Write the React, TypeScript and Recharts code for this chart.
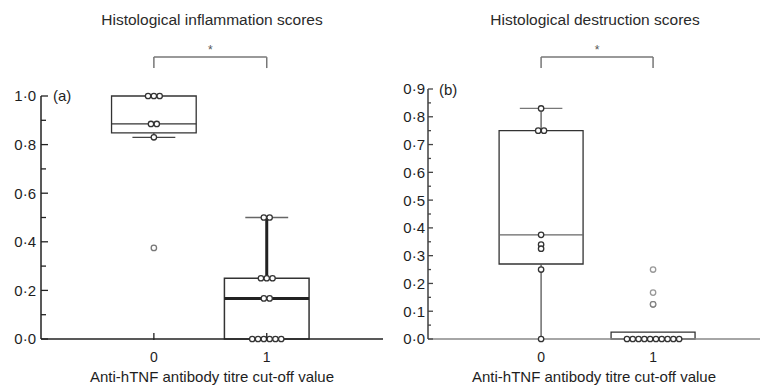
import React from 'react';
import { ComposedChart, Scatter, XAxis, YAxis, ReferenceArea, ReferenceLine, Label } from 'recharts';

const FONT = '"Liberation Sans", Arial, Helvetica, sans-serif';
const TEXT = '#1e1e1e';

// shared
const CATEGORIES = [0, 1];
const X_TICK_LABELS = ['0', '1'];
const X_AXIS_TITLE = 'Anti-hTNF antibody titre cut-off value';

// panel (a)
const A_TITLE = 'Histological inflammation scores';
const A_TAG = '(a)';
const A_VALUES_0 = [1, 1, 1, 0.885, 0.885, 0.83];
const A_OUTLIERS_0 = [0.375];
const A_VALUES_1 = [0.5, 0.5, 0.25, 0.25, 0.25, 0.167, 0.167, 0, 0, 0, 0, 0, 0];
const A_Q1 = [0.848, 0];
const A_MEDIAN = [0.885, 0.167];
const A_Q3 = [1, 0.25];
const A_WHISKER_LOW = [0.83, 0];
const A_WHISKER_HIGH = [1, 0.5];
const A_Y_TICKS = [0, 0.1, 0.2, 0.3, 0.4, 0.5, 0.6, 0.7, 0.8, 0.9, 1.0];
const A_Y_LABELS = ['0·0', '', '0·2', '', '0·4', '', '0·6', '', '0·8', '', '1·0'];
const A_BRACKET = [1.16, 1.115];

// panel (b)
const B_TITLE = 'Histological destruction scores';
const B_TAG = '(b)';
const B_VALUES_0 = [0.83, 0.75, 0.75, 0.375, 0.34, 0.325, 0.25, 0];
const B_VALUES_1 = [0, 0, 0, 0, 0, 0, 0, 0, 0, 0];
const B_OUTLIERS_1 = [0.25, 0.167, 0.125, 0.125];
const B_Q1 = [0.27, 0];
const B_MEDIAN = [0.375, 0];
const B_Q3 = [0.75, 0.025];
const B_WHISKER_LOW = [0, 0];
const B_WHISKER_HIGH = [0.83, 0.025];
const B_Y_TICKS = [0, 0.05, 0.1, 0.15, 0.2, 0.25, 0.3, 0.35, 0.4, 0.45, 0.5, 0.55, 0.6, 0.65, 0.7, 0.75, 0.8, 0.85, 0.9];
const B_Y_LABELS = ['0·0', '', '0·1', '', '0·2', '', '0·3', '', '0·4', '', '0·5', '', '0·6', '', '0·7', '', '0·8', '', '0·9'];
const B_BRACKET = [1.015, 0.976];

type BoxStyle = { box: string; boxW: number; med: string; medW: number; whisk: string; whiskW: number; cap: string; capW: number };

const A_STYLES: BoxStyle[] = [
  { box: '#333', boxW: 1.3, med: '#333', medW: 1.3, whisk: '#444', whiskW: 1.3, cap: '#444', capW: 1.3 },
  { box: '#333', boxW: 1.5, med: '#222', medW: 3, whisk: '#222', whiskW: 3, cap: '#666', capW: 1.3 },
];
const B_STYLES: BoxStyle[] = [
  { box: '#333', boxW: 1.3, med: '#666', medW: 1.2, whisk: '#555', whiskW: 1.3, cap: '#777', capW: 1.2 },
  { box: '#333', boxW: 1.3, med: '#444', medW: 0, whisk: '#555', whiskW: 1.2, cap: '#777', capW: 1.2 },
];

type Dot = { x: number; y: number; k: number; n: number };

function toDots(cat: number, vals: number[], stack = true): Dot[] {
  const counts: Record<string, number> = {};
  vals.forEach((v) => (counts[v] = (counts[v] || 0) + 1));
  const seen: Record<string, number> = {};
  return vals.map((v) => {
    const k = seen[v] || 0;
    seen[v] = k + 1;
    return stack ? { x: cat, y: v, k, n: counts[v] } : { x: cat, y: v, k: 0, n: 1 };
  });
}

const SPACING = 5.8;
const makeDot = (stroke: string, opacity = 1) => (props: any) => {
  const { cx, cy, payload } = props;
  if (cx == null || cy == null) return <g />;
  const off = (payload.k - (payload.n - 1) / 2) * SPACING;
  return <circle cx={cx + off} cy={cy} r={2.7} fill="#fff" stroke={stroke} strokeOpacity={opacity} strokeWidth={1.3} />;
};

const makeXTick = (tickLen: number, color: string, fontSize: number) => (props: any) => {
  const { x, y, payload } = props;
  const i = CATEGORIES.indexOf(payload.value);
  return (
    <g>
      {tickLen > 0 && <line x1={x} x2={x} y1={y - tickLen} y2={y + 1} stroke={color} strokeWidth={1.3} />}
      <text x={x} y={y + 23} textAnchor="middle" fontSize={fontSize} fill={TEXT} fontFamily={FONT}>
        {X_TICK_LABELS[i]}
      </text>
    </g>
  );
};

const makeYTick = (ticks: number[], labels: string[], major: number, minor: number, gap: number, color: string) => (props: any) => {
  const { x, y, payload } = props;
  const i = ticks.findIndex((t) => Math.abs(t - payload.value) < 1e-9);
  const label = labels[i] || '';
  const isMajor = label !== '';
  return (
    <g>
      <line x1={x} x2={x + (isMajor ? major : minor)} y1={y} y2={y} stroke={color} strokeWidth={1.3} />
      {isMajor && (
        <text x={x - gap} y={y} dy="0.36em" textAnchor="end" fontSize={15} fill={TEXT} fontFamily={FONT}>
          {label}
        </text>
      )}
    </g>
  );
};

function boxElements(prefix: string, q1: number[], med: number[], q3: number[], lo: number[], hi: number[], styles: BoxStyle[], half: number, capHalf: number) {
  const els: React.ReactNode[] = [];
  CATEGORIES.forEach((c, i) => {
    const s = styles[i];
    if (hi[i] > q3[i]) {
      els.push(<ReferenceLine key={`${prefix}wh${i}`} segment={[{ x: c, y: q3[i] }, { x: c, y: hi[i] }]} stroke={s.whisk} strokeWidth={s.whiskW} ifOverflow="visible" />);
      els.push(<ReferenceLine key={`${prefix}ch${i}`} segment={[{ x: c - capHalf, y: hi[i] }, { x: c + capHalf, y: hi[i] }]} stroke={s.cap} strokeWidth={s.capW} ifOverflow="visible" />);
    }
    if (lo[i] < q1[i]) {
      els.push(<ReferenceLine key={`${prefix}wl${i}`} segment={[{ x: c, y: q1[i] }, { x: c, y: lo[i] }]} stroke={s.whisk} strokeWidth={s.whiskW} ifOverflow="visible" />);
      if (lo[i] > 0) {
        els.push(<ReferenceLine key={`${prefix}cl${i}`} segment={[{ x: c - capHalf, y: lo[i] }, { x: c + capHalf, y: lo[i] }]} stroke={s.cap} strokeWidth={s.capW} ifOverflow="visible" />);
      }
    }
    els.push(
      <ReferenceArea key={`${prefix}bx${i}`} x1={c - half} x2={c + half} y1={q1[i]} y2={q3[i]} fill="#fff" fillOpacity={1} stroke={s.box} strokeWidth={s.boxW} ifOverflow="visible" />
    );
    if (s.medW > 0) {
      els.push(<ReferenceLine key={`${prefix}md${i}`} segment={[{ x: c - half, y: med[i] }, { x: c + half, y: med[i] }]} stroke={s.med} strokeWidth={s.medW} ifOverflow="visible" />);
    }
  });
  return els;
}

function bracket(prefix: string, levels: number[]) {
  const st = { stroke: '#777', strokeWidth: 1.5, ifOverflow: 'visible' as const };
  return [
    <ReferenceLine key={`${prefix}b1`} segment={[{ x: 0, y: levels[1] }, { x: 0, y: levels[0] }]} {...st} />,
    <ReferenceLine
      key={`${prefix}b2`}
      segment={[{ x: 0, y: levels[0] }, { x: 1, y: levels[0] }]}
      {...st}
      label={{ value: '*', position: 'top', offset: 3, fill: '#555', fontSize: 12, fontFamily: FONT }}
    />,
    <ReferenceLine key={`${prefix}b3`} segment={[{ x: 1, y: levels[0] }, { x: 1, y: levels[1] }]} {...st} />,
  ];
}

const aDots = [...toDots(0, A_VALUES_0), ...toDots(1, A_VALUES_1)];
const aOutliers = toDots(0, A_OUTLIERS_0, false);
const bDots = [...toDots(0, B_VALUES_0), ...toDots(1, B_VALUES_1)];
const bOutliers = toDots(1, B_OUTLIERS_1, false);

export default function App() {
  return (
    <div style={{ position: 'absolute', left: 0, top: 0, width: 760, height: 385, background: '#fff', overflow: 'hidden', fontFamily: FONT }}>
      <div style={{ position: 'absolute', left: 0, top: 0 }}>
        <ComposedChart width={390} height={385} margin={{ top: 96, right: 7, bottom: 0, left: 0 }}>
          <XAxis
            type="number"
            dataKey="x"
            domain={[-1, 2.03]}
            ticks={CATEGORIES}
            interval={0}
            tickSize={0}
            tickMargin={0}
            tickLine={false}
            height={46}
            axisLine={{ stroke: '#222', strokeWidth: 1.5 }}
            tick={makeXTick(6, '#222', 14)}
          >
            <Label value={X_AXIS_TITLE} position="insideBottom" offset={3} style={{ fontSize: 15, fill: TEXT, fontFamily: FONT }} />
          </XAxis>
          <YAxis
            type="number"
            domain={[0, 1]}
            ticks={A_Y_TICKS}
            interval={0}
            tickSize={0}
            tickMargin={0}
            tickLine={false}
            width={41}
            axisLine={{ stroke: '#222', strokeWidth: 1.5 }}
            tick={makeYTick(A_Y_TICKS, A_Y_LABELS, 7, 5, 5, '#222')}
          />
          {bracket('a', A_BRACKET)}
          {boxElements('a', A_Q1, A_MEDIAN, A_Q3, A_WHISKER_LOW, A_WHISKER_HIGH, A_STYLES, 0.375, 0.19)}
          <Scatter data={aDots} dataKey="y" isAnimationActive={false} shape={makeDot('#333')} />
          <Scatter data={aOutliers} dataKey="y" isAnimationActive={false} shape={makeDot('#555', 0.8)} />
        </ComposedChart>
      </div>
      <div style={{ position: 'absolute', left: 380, top: 0 }}>
        <ComposedChart width={380} height={385} margin={{ top: 89, right: 0, bottom: 0, left: 0 }}>
          <XAxis
            type="number"
            dataKey="x"
            domain={[-1.01, 1.955]}
            ticks={CATEGORIES}
            interval={0}
            tickSize={0}
            tickMargin={0}
            tickLine={false}
            height={46}
            axisLine={{ stroke: '#888', strokeWidth: 1.5 }}
            tick={makeXTick(0, '#888', 14)}
          >
            <Label value={X_AXIS_TITLE} position="insideBottom" offset={3} style={{ fontSize: 15, fill: TEXT, fontFamily: FONT }} />
          </XAxis>
          <YAxis
            type="number"
            domain={[0, 0.9]}
            ticks={B_Y_TICKS}
            interval={0}
            tickSize={0}
            tickMargin={0}
            tickLine={false}
            width={48}
            axisLine={{ stroke: '#333', strokeWidth: 1.4 }}
            tick={makeYTick(B_Y_TICKS, B_Y_LABELS, 5, 3, 3, '#444')}
          />
          {bracket('b', B_BRACKET)}
          {boxElements('b', B_Q1, B_MEDIAN, B_Q3, B_WHISKER_LOW, B_WHISKER_HIGH, B_STYLES, 0.375, 0.19)}
          <Scatter data={bDots} dataKey="y" isAnimationActive={false} shape={makeDot('#333')} />
          <Scatter data={bOutliers} dataKey="y" isAnimationActive={false} shape={makeDot('#444', 0.55)} />
        </ComposedChart>
      </div>
      <svg width={760} height={385} style={{ position: 'absolute', left: 0, top: 0, pointerEvents: 'none' }}>
        <text x={212} y={25} textAnchor="middle" fontSize={15.5} fill="#2a2a2a" fontFamily={FONT}>{A_TITLE}</text>
        <text x={595} y={25} textAnchor="middle" fontSize={15.5} fill="#2a2a2a" fontFamily={FONT}>{B_TITLE}</text>
        <text x={53} y={101} fontSize={15} fill={TEXT} fontFamily={FONT}>{A_TAG}</text>
        <text x={439} y={95} fontSize={15} fill={TEXT} fontFamily={FONT}>{B_TAG}</text>
      </svg>
    </div>
  );
}
